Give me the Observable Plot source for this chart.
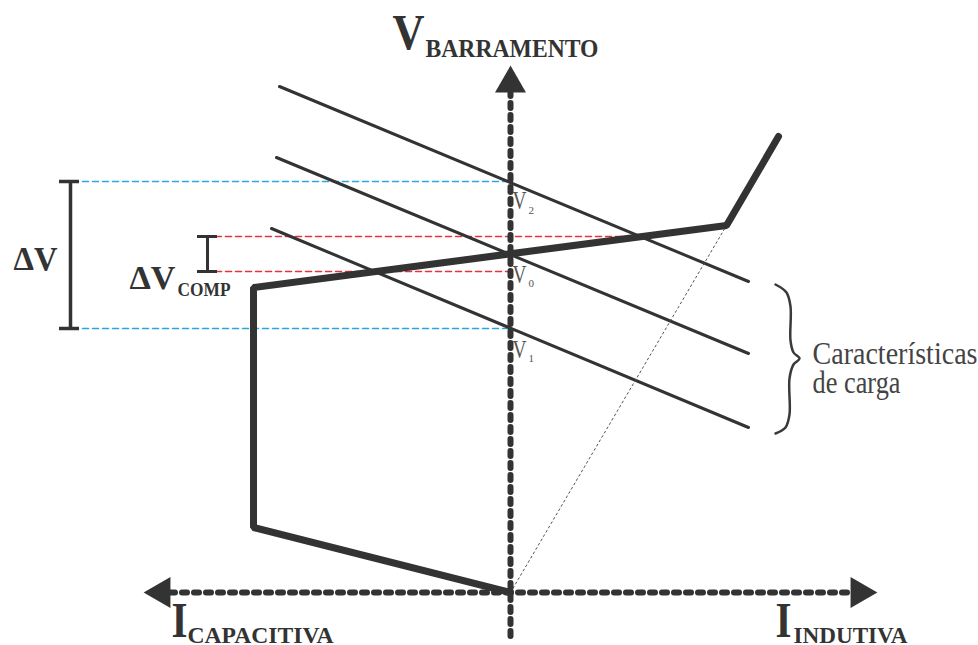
<!DOCTYPE html>
<html>
<head>
<meta charset="utf-8">
<script src="https://cdn.jsdelivr.net/npm/d3@7"></script>
<script src="https://cdn.jsdelivr.net/npm/@observablehq/plot@0.6"></script>
<style>
  html, body { margin: 0; padding: 0; background: #fff; }
  #chart svg { display: block; }
</style>
</head>
<body>
<div id="chart"></div>
<script>
// ---- data (abstract units: x = current, y = bus voltage) ----
const characteristicX = [0, -2.57, -2.57, 2.16, 2.68];
const characteristicY = [0, 0.65, 3.05, 3.67, 4.56];

const loadNames = ["top", "middle", "bottom"];
const loadStartX = [-2.31, -2.34, -2.39];
const loadStartY = [5.06, 4.35, 3.64];
const loadEndX = [2.38, 2.38, 2.38];
const loadEndY = [3.11, 2.39, 1.65];

const voltageSubs = ["2", "0", "1"];
const voltageValues = [4.11, 3.38, 2.64];
const voltageLabelY = [3.84, 3.10, 2.35];
const voltageSubY = [3.79, 3.06, 2.31];

const deltaV = [2.64, 4.11];       // ΔV range
const deltaVComp = [3.21, 3.56];   // ΔV_COMP range
const blueLeft = -4.38, redLeft = -2.95, redUpperRight = 1.30;

const braceX = [2.65, 2.76, 2.80, 2.80, 2.83, 2.89, 2.83, 2.79, 2.79, 2.75, 2.65];
const braceY = [3.08, 3.00, 2.86, 2.52, 2.40, 2.34, 2.28, 2.14, 1.78, 1.65, 1.59];

const vAxisRange = [-0.44, 5.0];
const hAxisRange = [-3.40, 3.40];
const arrowTips = [
  {x: 0, y: 5.09, rotate: 0},
  {x: -3.49, y: 0, rotate: -90},
  {x: 3.49, y: 0, rotate: 90}
];

// texts: position (data units, baseline), cap height and rendered length in px
const labelText = ["V", "BARRAMENTO", "ΔV", "ΔV", "COMP", "I", "CAPACITIVA", "I", "INDUTIVA", "Características", "de carga"];
const labelX =    [-1.18, -0.85, -4.97, -3.81, -3.33, -3.39, -3.23, 2.65, 2.83, 3.02, 3.02];
const labelY =    [5.44, 5.36, 3.23, 3.04, 2.97, -0.44, -0.50, -0.44, -0.50, 2.29, 2.00];
const labelCap =  [33, 16, 23, 22, 12, 33, 15, 33, 15, 21, 21];
const labelLen =  [32, 173, 44, 46, 53, 16, 146, 16, 114, 165, 88];
const labelBold = [true, true, true, true, true, true, true, true, true, false, false];

const dark = "#333333";

// ---- font pick ----
function hasFont(name) {
  const c = document.createElement("canvas").getContext("2d");
  const s = "abcdefghiIlmwWΔ0123 Características";
  c.font = "40px monospace"; const a = c.measureText(s).width;
  c.font = `40px "${name}", monospace`; const b = c.measureText(s).width;
  return a !== b;
}
const serifName = hasFont("Liberation Serif") ? "Liberation Serif" : hasFont("Tinos") ? "Tinos" : "DejaVu Serif";
const capRatio = serifName === "DejaVu Serif" ? 0.729 : 0.662;
const serif = `"${serifName}", serif`;

// ---- derived tables ----
const characteristic = characteristicX.map((x, i) => ({x, y: characteristicY[i]}));
const loadLines = loadNames.flatMap((n, i) => [
  {name: n, x: loadStartX[i], y: loadStartY[i]},
  {name: n, x: loadEndX[i], y: loadEndY[i]}
]);
const blueLines = [voltageValues[0], voltageValues[2]].flatMap((v, i) => [
  {g: i, x: blueLeft, y: v}, {g: i, x: 0, y: v}
]);
const redLines = [
  {g: 0, x: redLeft, y: deltaVComp[1]}, {g: 0, x: redUpperRight, y: deltaVComp[1]},
  {g: 1, x: redLeft, y: deltaVComp[0]}, {g: 1, x: 0, y: deltaVComp[0]}
];
const brace = braceX.map((x, i) => ({x, y: braceY[i]}));

const bracketDV = {x: -4.40, x1: -4.51, x2: -4.31};
const bracketComp = {x: -3.03, x1: -3.13, x2: -2.93};

const allTexts = [
  ...labelText.map((t, i) => ({t, x: labelX[i], y: labelY[i], cap: labelCap[i], len: labelLen[i],
    w: labelBold[i] ? "bold" : "normal", c: labelBold[i] ? dark : "#444"})),
  ...voltageSubs.map((s, i) => ({t: "V", x: 0.02, y: voltageLabelY[i], cap: 16, len: 14, w: "normal", c: "#555"})),
  ...voltageSubs.map((s, i) => ({t: s, x: 0.18, y: voltageSubY[i], cap: 7.5, len: 5.5, w: "normal", c: "#555"}))
];

const textMark = (d) => Plot.text([d], {
  x: "x", y: "y", text: "t", textAnchor: "start", lineAnchor: "bottom",
  fontSize: d.cap / capRatio, fontWeight: d.w, fontFamily: serif, fill: d.c
});

const chart = Plot.plot({
  width: 978, height: 645,
  margin: 0, inset: 0,
  x: {domain: [-5.10, 4.68], axis: null},
  y: {domain: [-0.53, 5.92], axis: null},
  style: {background: "#fff"},
  marks: [
    // guide lines
    Plot.line(blueLines, {x: "x", y: "y", z: "g", stroke: "#2aa7e1", strokeWidth: 1.5, strokeDasharray: "6,4"}),
    Plot.line(redLines, {x: "x", y: "y", z: "g", stroke: "#e6323e", strokeWidth: 1.5, strokeDasharray: "6,4"}),
    // brackets
    Plot.ruleX([bracketDV.x], {y1: deltaV[0], y2: deltaV[1], stroke: dark, strokeWidth: 3.5}),
    Plot.ruleY(deltaV, {x1: bracketDV.x1, x2: bracketDV.x2, stroke: dark, strokeWidth: 3.5}),
    Plot.ruleX([bracketComp.x], {y1: deltaVComp[0], y2: deltaVComp[1], stroke: dark, strokeWidth: 3}),
    Plot.ruleY(deltaVComp, {x1: bracketComp.x1, x2: bracketComp.x2, stroke: dark, strokeWidth: 3}),
    // load characteristics
    Plot.line(loadLines, {x: "x", y: "y", z: "name", stroke: dark, strokeWidth: 3}),
    // dotted reference line
    Plot.line([characteristic[0], characteristic[3]], {x: "x", y: "y", stroke: "#555", strokeWidth: 1, strokeDasharray: "2,3"}),
    // axes
    Plot.ruleX([0], {y1: vAxisRange[0], y2: vAxisRange[1], stroke: dark, strokeWidth: 6, strokeLinecap: "round", strokeDasharray: "5,7"}),
    Plot.ruleY([0], {x1: hAxisRange[0], x2: hAxisRange[1], stroke: dark, strokeWidth: 6, strokeLinecap: "round", strokeDasharray: "5,7"}),
    Plot.dot(arrowTips, {x: "x", y: "y", rotate: "rotate", symbol: "triangle", r: 11.5, fill: dark, stroke: "none"}),
    // SVC characteristic
    Plot.line(characteristic, {x: "x", y: "y", stroke: dark, strokeWidth: 7, strokeLinejoin: "miter", strokeLinecap: "round"}),
    // brace
    Plot.line(brace, {x: "x", y: "y", curve: "catmull-rom", stroke: "#3a3a3a", strokeWidth: 2.5, strokeLinecap: "round"}),
    ...allTexts.map(textMark)
  ]
});

// force each text to the width it has in the reference
const textNodes = chart.querySelectorAll("text");
textNodes.forEach((node, i) => {
  const d = allTexts[i];
  if (d) {
    node.setAttribute("textLength", d.len);
    node.setAttribute("lengthAdjust", "spacingAndGlyphs");
  }
});
document.getElementById("chart").appendChild(chart);
</script>
</body>
</html>
